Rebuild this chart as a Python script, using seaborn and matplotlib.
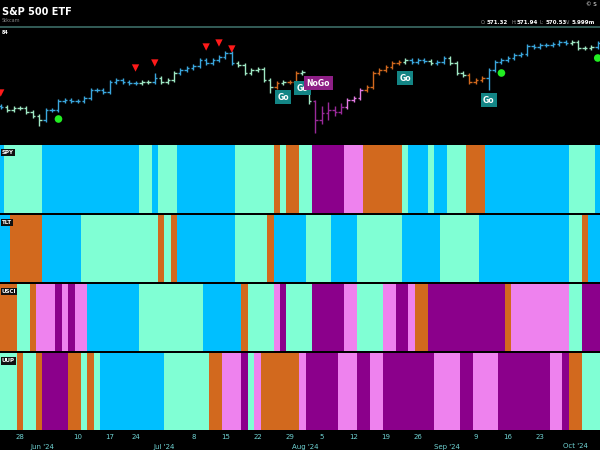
import numpy as np
import pandas as pd
import seaborn as sns
import matplotlib.pyplot as plt
from matplotlib.colors import ListedColormap
from matplotlib.transforms import blended_transform_factory

# daily SPY bars (price panel)
opens = [526.0, 525.1, 523.0, 524.4, 524.4, 521.6, 518.8, 516.0, 523.0, 523.0,
         529.3, 530.0, 529.3, 529.3, 531.4, 537.0, 537.0, 535.6, 542.6, 544.0,
         542.6, 541.9, 541.9, 542.6, 542.6, 545.4, 542.6, 544.0, 548.9, 551.0,
         552.4, 553.8, 558.0, 555.9, 558.0, 560.1, 562.9, 555.9, 554.5, 548.9,
         551.0, 551.7, 544.0, 539.1, 541.9, 542.6, 542.6, 548.9, 535.0, 529.0,
         516.0, 520.9, 523.0, 521.6, 525.1, 530.0, 531.4, 537.0, 539.1, 548.9,
         551.0, 553.1, 555.9, 556.6, 558.0, 556.6, 558.0, 557.3, 555.9, 556.6,
         559.4, 555.9, 548.9, 547.5, 542.6, 544.0, 545.4, 551.0, 556.6, 558.0,
         559.4, 561.5, 562.2, 567.8, 567.1, 568.5, 568.5, 569.2, 570.6, 569.9,
         570.6, 566.4, 566.4, 567.1]
closes = [525.1, 523.0, 524.4, 524.4, 521.6, 518.8, 516.0, 523.0, 523.0, 529.3,
          530.0, 529.3, 529.3, 531.4, 537.0, 537.0, 535.6, 542.6, 544.0, 542.6,
          541.9, 541.9, 542.6, 542.6, 545.4, 542.6, 544.0, 548.9, 551.0, 552.4,
          553.8, 558.0, 555.9, 558.0, 560.1, 562.9, 555.9, 554.5, 548.9, 551.0,
          551.7, 544.0, 539.1, 541.9, 542.6, 542.6, 548.9, 549.6, 529.0, 516.0,
          520.9, 523.0, 521.6, 525.1, 530.0, 531.4, 537.0, 539.1, 548.9, 551.0,
          553.1, 555.9, 556.6, 558.0, 556.6, 558.0, 557.3, 555.9, 556.6, 559.4,
          555.9, 548.9, 547.5, 542.6, 544.0, 545.4, 551.0, 556.6, 558.0, 559.4,
          561.5, 562.2, 567.8, 567.1, 568.5, 568.5, 569.2, 570.6, 569.9, 570.6,
          566.4, 566.4, 567.1, 569.9]
highs = [527.5, 526.6, 525.9, 525.9, 525.9, 523.1, 520.3, 524.5, 524.5, 530.8,
         531.5, 531.5, 530.8, 532.9, 538.5, 538.5, 538.5, 544.1, 545.5, 545.5,
         544.1, 543.4, 544.1, 544.1, 549.0, 546.9, 545.5, 550.4, 552.5, 553.9,
         555.3, 559.5, 559.5, 559.5, 561.6, 564.4, 564.4, 557.4, 556.0, 552.5,
         553.2, 553.2, 545.5, 543.4, 544.1, 544.1, 550.4, 551.1, 535.5, 530.0,
         526.0, 528.5, 526.0, 528.0, 531.5, 532.9, 538.5, 540.6, 550.4, 552.5,
         554.6, 557.4, 558.1, 559.5, 559.5, 559.5, 559.5, 558.8, 558.1, 560.9,
         560.9, 557.4, 550.4, 549.0, 545.5, 546.9, 552.5, 558.1, 559.5, 560.9,
         563.0, 563.7, 569.3, 569.3, 570.0, 570.0, 570.7, 572.1, 572.1, 572.1,
         572.1, 567.9, 568.6, 571.4]
lows = [523.6, 521.5, 521.5, 522.9, 520.1, 517.3, 512.0, 514.5, 521.5, 521.5,
        527.8, 527.8, 527.8, 527.8, 529.9, 535.5, 534.1, 534.1, 541.1, 541.1,
        540.4, 540.4, 540.4, 541.1, 541.1, 541.1, 541.1, 542.5, 547.4, 549.5,
        550.9, 552.3, 554.4, 554.4, 556.5, 558.6, 554.4, 553.0, 547.4, 547.4,
        549.5, 542.5, 535.0, 537.6, 540.4, 541.1, 541.1, 547.4, 527.0, 507.0,
        513.5, 516.0, 518.5, 520.0, 523.6, 528.5, 529.9, 535.5, 537.6, 547.4,
        549.5, 551.6, 554.4, 555.1, 555.1, 555.1, 555.8, 554.4, 554.4, 555.1,
        554.4, 547.4, 546.0, 541.1, 541.1, 542.5, 537.0, 549.5, 555.1, 556.5,
        557.9, 560.0, 560.7, 565.6, 565.6, 567.0, 567.0, 567.7, 568.4, 568.4,
        564.9, 564.9, 564.9, 565.6]

# GoNoGo trend per day: B strong go, A weak go, O weak nogo, V nogo, P strong nogo
spy_runs = [("B", 1), ("A", 6), ("B", 15), ("A", 2), ("B", 1), ("A", 3), ("B", 9),
            ("A", 6), ("O", 1), ("A", 1), ("O", 2), ("A", 2), ("P", 5), ("V", 3),
            ("O", 6), ("A", 1), ("B", 3), ("A", 1), ("B", 2), ("A", 3), ("O", 3),
            ("B", 13), ("A", 4), ("B", 1)]
tlt_runs = [("B", 2), ("O", 5), ("B", 6), ("A", 12), ("O", 1), ("A", 1), ("O", 1),
            ("B", 9), ("A", 5), ("O", 1), ("B", 5), ("A", 4), ("B", 4), ("A", 7),
            ("B", 6), ("A", 6), ("B", 14), ("A", 2), ("O", 1), ("B", 2)]
usci_runs = [("O", 3), ("A", 2), ("O", 1), ("V", 3), ("P", 1), ("V", 1), ("P", 1),
             ("V", 2), ("B", 8), ("A", 10), ("B", 6), ("O", 1), ("A", 4), ("V", 1),
             ("P", 1), ("A", 4), ("P", 5), ("V", 2), ("A", 4), ("V", 2), ("P", 2),
             ("V", 1), ("O", 2), ("P", 12), ("O", 1), ("V", 9), ("A", 2), ("P", 3)]
uup_runs = [("A", 3), ("O", 1), ("A", 2), ("O", 1), ("P", 4), ("O", 2), ("A", 1),
            ("O", 1), ("A", 1), ("B", 10), ("A", 7), ("O", 2), ("V", 3), ("P", 1),
            ("A", 1), ("V", 1), ("O", 6), ("V", 1), ("P", 5), ("V", 3), ("P", 2),
            ("V", 2), ("P", 8), ("V", 4), ("P", 2), ("V", 4), ("P", 8), ("V", 2),
            ("P", 1), ("O", 2), ("A", 3)]

# red countertrend triangles, green dots, Go / NoGo labels
tri_idx = [0, 21, 24, 32, 34, 36]
tri_price = [534.9, 552.4, 555.9, 567.1, 569.9, 565.7]
dot_idx = [9, 78, 93]
dot_price = [516.7, 548.9, 559.4]
go_idx = [44, 47, 63, 76]
go_price = [532.1, 538.4, 545.4, 530.0]
nogo_idx = [49.5]
nogo_price = [541.9]

# x axis ticks (bar index -> label)
tick_idx = [3, 12, 17, 21, 30, 35, 40, 45, 50, 55, 60, 65, 74, 79, 84]
tick_lab = ["28", "10", "17", "24", "8", "15", "22", "29", "5", "12", "19", "26",
            "9", "16", "23"]
month_idx = [6.5, 25.5, 47.5, 69.5, 89.5]
month_lab = ["Jun '24", "Jul '24", "Aug '24", "Sep '24", "Oct '24"]

codes = ["B", "A", "O", "V", "P"]
band_colors = ["#00BFFF", "#80FFD4", "#D2691E", "#EE82EE", "#8B008B"]
bar_colors = {"B": "#3aa6dc", "A": "#9fe8c4", "O": "#d2691e", "V": "#e47be4", "P": "#9a2a9a"}

sns.set_theme(style="dark")
plt.rcParams["font.family"] = ["DejaVu Sans"]

XL = (-0.11, 93.35)
H = 450.0

fig = plt.figure(figsize=(6, 4.5), dpi=100, facecolor="black")

def expand(runs):
    return [c for c, k in runs for _ in range(k)]

spy_trend = expand(spy_runs)

# price panel
ax = fig.add_axes([0, 1 - 143 / H, 1, 115 / H])
ax.set_facecolor("black")
df = pd.DataFrame({"o": opens, "h": highs, "l": lows, "c": closes, "t": spy_trend})
for i, r in df.iterrows():
    col = bar_colors[r.t]
    ax.vlines(i, r.l, r.h, color=col, lw=1.0)
    ax.hlines(r.o, i - 0.4, i, color=col, lw=1.0)
    ax.hlines(r.c, i, i + 0.4, color=col, lw=1.0)
tri = pd.DataFrame({"x": tri_idx, "y": tri_price})
sns.scatterplot(data=tri, x="x", y="y", marker="v", s=28, color="#ff1a1a",
                edgecolor="none", ax=ax, zorder=5)
dots = pd.DataFrame({"x": dot_idx, "y": dot_price})
sns.scatterplot(data=dots, x="x", y="y", marker="o", s=30, color="#22ee22",
                edgecolor="none", ax=ax, zorder=5)
for x, y in zip(go_idx, go_price):
    ax.text(x, y, "Go", color="white", fontsize=5.5, fontweight="bold", ha="center",
            va="center", zorder=6,
            bbox=dict(boxstyle="square,pad=0.3", fc="#138585", ec="none"))
for x, y in zip(nogo_idx, nogo_price):
    ax.text(x, y, "NoGo", color="white", fontsize=5.5, fontweight="bold", ha="center",
            va="center", zorder=6,
            bbox=dict(boxstyle="square,pad=0.3", fc="#8e1f86", ec="none"))
ax.set_xlim(*XL)
ax.set_ylim(600 - 0.7 * 143, 600 - 0.7 * 28)
ax.set_axis_off()

# trend bands
cmap = ListedColormap(band_colors)
bands = [("SPY", spy_runs, 145, 213), ("TLT", tlt_runs, 215, 282),
         ("USCI", usci_runs, 284, 351), ("UUP", uup_runs, 353, 430)]
for name, runs, top, bot in bands:
    bax = fig.add_axes([0, 1 - bot / H, 1, (bot - top) / H])
    vals = np.array([[codes.index(c) for c in expand(runs)]])
    sns.heatmap(vals, cmap=cmap, vmin=-0.5, vmax=4.5, cbar=False, ax=bax,
                xticklabels=False, yticklabels=False)
    bax.set_xlim(XL[0] + 0.5, XL[1] + 0.5)
    bax.text(0.003, 0.93, name, transform=bax.transAxes, color="white", fontsize=4,
             fontweight="bold", ha="left", va="top",
             bbox=dict(boxstyle="square,pad=0.2", fc="#111111", ec="none"))
    last = bax

# date axis under the last band
last.set_xticks([t + 0.5 for t in tick_idx])
last.set_xticklabels(tick_lab, color="#6fd3d3", fontsize=5)
last.tick_params(axis="x", length=0, pad=3)
tr = blended_transform_factory(last.transData, fig.transFigure)
for x, lab in zip(month_idx, month_lab):
    last.text(x + 0.5, 1 - 446.5 / H, lab, transform=tr, color="#6fd3d3", fontsize=5,
              ha="center", va="center")

# header
fig.text(2 / 600, 1 - 12 / H, "S&P 500 ETF", color="white", fontsize=7, fontweight="bold",
         ha="left", va="center")
fig.text(2 / 600, 1 - 21 / H, "Stkcam", color="#888888", fontsize=3.5, ha="left", va="center")
fig.text(2 / 600, 1 - 32 / H, "84", color="white", fontsize=3.5, fontweight="bold",
         ha="left", va="center")
hdr = [("O:", "571.32", 481), ("H:", "571.94", 511), ("L:", "570.53", 540), ("V:", "5.999m", 566)]
for lab, val, x in hdr:
    fig.text(x / 600, 1 - 22 / H, lab, color="#999999", fontsize=3.5, ha="left", va="center")
    fig.text((x + 6) / 600, 1 - 22 / H, val, color="white", fontsize=4, fontweight="bold",
             ha="left", va="center")
fig.text(586 / 600, 1 - 5 / H, "\u00a9 S", color="white", fontsize=4, ha="left", va="center")
fig.add_artist(plt.Line2D([0, 1], [1 - 27 / H, 1 - 27 / H], color="#3b6b66", lw=1.2))

fig.savefig("out.png", dpi=100, facecolor="black")
